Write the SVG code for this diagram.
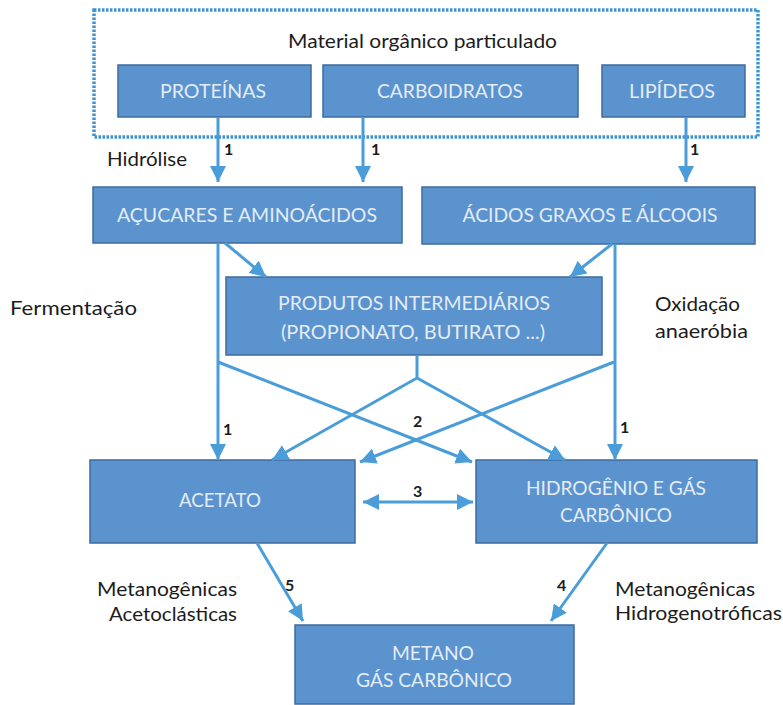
<svg xmlns="http://www.w3.org/2000/svg" width="783" height="705" viewBox="0 0 783 705">
<defs>
<style>
.box{fill:#5b93cf;stroke:#3f6b9d;stroke-width:1.5}
.bt{font-family:Lato,"Liberation Sans",sans-serif;font-size:20px;fill:#e4ecf6;text-anchor:middle}
.lb{font-family:Lato,"Liberation Sans",sans-serif;font-size:19px;fill:#1c1c1c}
.num{font-family:Lato,"Liberation Sans",sans-serif;font-size:16px;font-weight:bold;fill:#1c1c1c}
.ar{fill:none;stroke:#4a9dd8;stroke-width:3;marker-end:url(#ah)}
</style>
<marker id="ah" markerUnits="userSpaceOnUse" markerWidth="16" markerHeight="16" refX="14" refY="7" orient="auto-start-reverse" viewBox="0 0 14 14">
<path d="M0,0 L14,7 L0,14 z" fill="#4a9dd8"/>
</marker>
</defs>
<rect width="783" height="705" fill="#ffffff"/>

<g id="material">
<rect x="94" y="10" width="664" height="127" fill="none" stroke="#3f93d3" stroke-width="3.5" stroke-dasharray="2.5,1.5"/>
<text class="lb" x="288" y="48" font-size="20" textLength="269" lengthAdjust="spacingAndGlyphs">Material orgânico particulado</text>
</g>
<g id="proteinas"><rect class="box" x="118" y="65" width="193" height="52"/><text class="bt" x="213" y="98" textLength="106" lengthAdjust="spacingAndGlyphs">PROTEÍNAS</text></g>
<g id="carboidratos"><rect class="box" x="323" y="65" width="255" height="52"/><text class="bt" x="450" y="98" textLength="146" lengthAdjust="spacingAndGlyphs">CARBOIDRATOS</text></g>
<g id="lipideos"><rect class="box" x="602" y="65" width="143" height="52"/><text class="bt" x="672" y="98" textLength="86" lengthAdjust="spacingAndGlyphs">LIPÍDEOS</text></g>

<g id="acucares"><rect class="box" x="93" y="187" width="309" height="56"/><text class="bt" x="247" y="222" textLength="260" lengthAdjust="spacingAndGlyphs">AÇUCARES E AMINOÁCIDOS</text></g>
<g id="acidos"><rect class="box" x="422" y="187" width="333" height="57"/><text class="bt" x="590" y="222" textLength="255" lengthAdjust="spacingAndGlyphs">ÁCIDOS GRAXOS E ÁLCOOIS</text></g>
<g id="produtos"><rect class="box" x="226" y="277" width="376" height="78"/>
<text class="bt" x="414" y="310" textLength="272" lengthAdjust="spacingAndGlyphs">PRODUTOS INTERMEDIÁRIOS</text>
<text class="bt" x="413" y="339" textLength="264" lengthAdjust="spacingAndGlyphs">(PROPIONATO, BUTIRATO ...)</text></g>

<g id="acetato"><rect class="box" x="90" y="460" width="265" height="83"/><text class="bt" x="220" y="507" textLength="82" lengthAdjust="spacingAndGlyphs">ACETATO</text></g>
<g id="hidrogenio"><rect class="box" x="476" y="460" width="281" height="83"/>
<text class="bt" x="616" y="495" textLength="180" lengthAdjust="spacingAndGlyphs">HIDROGÊNIO E GÁS</text>
<text class="bt" x="616" y="522" textLength="112" lengthAdjust="spacingAndGlyphs">CARBÔNICO</text></g>
<g id="metano"><rect class="box" x="295" y="625" width="279" height="79"/>
<text class="bt" x="433" y="660" textLength="82" lengthAdjust="spacingAndGlyphs">METANO</text>
<text class="bt" x="434" y="687" textLength="156" lengthAdjust="spacingAndGlyphs">GÁS CARBÔNICO</text></g>

<g id="labels">
<text class="lb" x="107" y="166" textLength="80" lengthAdjust="spacingAndGlyphs">Hidrólise</text>
<text class="lb" x="10" y="315" font-size="18" textLength="127" lengthAdjust="spacingAndGlyphs">Fermentação</text>
<text class="lb" x="655" y="311" font-size="18" textLength="85" lengthAdjust="spacingAndGlyphs">Oxidação</text>
<text class="lb" x="655" y="338" font-size="18" textLength="93" lengthAdjust="spacingAndGlyphs">anaeróbia</text>
<text class="lb" x="97" y="596" textLength="140" lengthAdjust="spacingAndGlyphs">Metanogênicas</text>
<text class="lb" x="109" y="621" textLength="128" lengthAdjust="spacingAndGlyphs">Acetoclásticas</text>
<text class="lb" x="615" y="596" textLength="140" lengthAdjust="spacingAndGlyphs">Metanogênicas</text>
<text class="lb" x="615" y="620" textLength="167" lengthAdjust="spacingAndGlyphs">Hidrogenotróficas</text>
<text class="num" x="224" y="155">1</text>
<text class="num" x="371" y="155">1</text>
<text class="num" x="690" y="155">1</text>
<text class="num" x="223" y="435">1</text>
<text class="num" x="620" y="433">1</text>
<text class="num" x="413" y="427">2</text>
<text class="num" x="413" y="497">3</text>
<text class="num" x="285" y="591">5</text>
<text class="num" x="557" y="591">4</text>
</g>

<g id="connectors">
<line class="ar" x1="218" y1="117" x2="218" y2="182"/>
<line class="ar" x1="363" y1="117" x2="363" y2="182"/>
<line class="ar" x1="686" y1="117" x2="686" y2="182"/>
<line class="ar" x1="225" y1="243" x2="266" y2="277"/>
<line class="ar" x1="612" y1="244" x2="570" y2="277"/>
<line class="ar" x1="218" y1="243" x2="218" y2="460"/>
<line class="ar" x1="615" y1="244" x2="615" y2="460"/>
<line class="ar" x1="218" y1="362" x2="472" y2="462"/>
<line class="ar" x1="614" y1="362" x2="360" y2="462"/>
<polyline class="ar" points="417,355 417,378 272,460"/>
<polyline class="ar" points="417,378 565,460"/>
<line class="ar" x1="363" y1="502" x2="473" y2="502" style="marker-start:url(#ah)"/>
<line class="ar" x1="257" y1="543" x2="303" y2="621"/>
<line class="ar" x1="607" y1="543" x2="551" y2="621"/>
</g>
</svg>
